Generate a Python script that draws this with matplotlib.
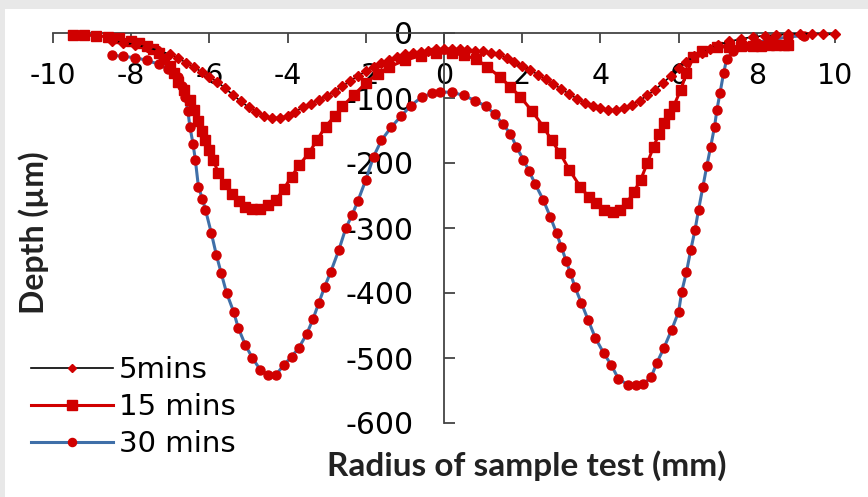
import matplotlib
matplotlib.use("Agg")
import matplotlib.pyplot as plt
from matplotlib.patches import Rectangle

plt.rcParams["axes.unicode_minus"] = False

# radius (mm) and depth (um)
x_5 = [-8.5, -8.2, -7.9, -7.6, -7.3, -7.0, -6.8, -6.6, -6.4, -6.2, -6.0, -5.8, -5.6, -5.4,
       -5.2, -5.0, -4.8, -4.6, -4.4, -4.2, -4.0, -3.8, -3.6, -3.4, -3.2, -3.0, -2.8, -2.6,
       -2.4, -2.2, -2.0, -1.8, -1.6, -1.4, -1.2, -1.0, -0.8, -0.6, -0.4, -0.2, 0.0, 0.2,
       0.4, 0.6, 0.8, 1.0, 1.2, 1.4, 1.6, 1.8, 2.0, 2.2, 2.4, 2.6, 2.8, 3.0, 3.2, 3.4,
       3.6, 3.8, 4.0, 4.2, 4.4, 4.6, 4.8, 5.0, 5.2, 5.4, 5.6, 5.8, 6.0, 6.2, 6.4, 6.6,
       6.8, 7.0, 7.3, 7.6, 7.9, 8.2, 8.5, 8.8, 9.1, 9.4, 9.7, 10.0]
y_5 = [-12, -15, -18, -22, -27, -33, -38, -46, -52, -60, -68, -75, -85, -95,
       -105, -114, -121, -127, -130, -130, -127, -121, -114, -109, -103, -97, -90, -82,
       -74, -66, -59, -52, -46, -41, -37, -33, -31, -29, -27, -25, -24, -24,
       -25, -26, -27, -28, -30, -33, -38, -44, -51, -57, -64, -71, -79, -86, -94, -101,
       -107, -112, -116, -118, -118, -115, -110, -104, -96, -87, -77, -66, -54, -44, -36, -30,
       -24, -18, -13, -9, -6, -4, -3, -2, -1, -1, -2, -2]

x_15 = [-9.5, -9.2, -8.9, -8.6, -8.3, -8.0, -7.8, -7.6, -7.45, -7.3, -7.15, -7.0, -6.9,
        -6.8, -6.65, -6.5, -6.4, -6.3, -6.2, -6.1, -6.0, -5.9, -5.77, -5.6, -5.43, -5.25,
        -5.08, -4.9, -4.7, -4.5, -4.3, -4.1, -3.9, -3.7, -3.46, -3.25, -3.03, -2.8, -2.6,
        -2.3, -2.0, -1.7, -1.4, -1.0, -0.6, -0.2, 0.2, 0.5, 0.82, 1.1, 1.44, 1.7, 1.95,
        2.25, 2.54, 2.75, 2.97, 3.2, 3.49, 3.7, 3.9, 4.1, 4.33, 4.5, 4.67, 4.85, 5.03,
        5.2, 5.36, 5.5, 5.62, 5.75, 5.87, 6.05, 6.2, 6.38, 6.6, 6.97, 7.3, 7.6, 7.9, 8.1,
        8.3, 8.5, 8.7, 8.8]
y_15 = [-3, -3, -4, -6, -8, -12, -15, -20, -25, -31, -40, -50, -62,
        -75, -88, -103, -118, -135, -150, -165, -180, -195, -216, -232, -247, -258,
        -267, -270, -270, -265, -257, -240, -221, -203, -185, -165, -144, -128, -113,
        -95, -77, -63, -52, -42, -35, -31, -31, -34, -40, -52, -68, -83, -98,
        -120, -144, -165, -185, -210, -237, -252, -262, -272, -275, -272, -262, -245, -226,
        -200, -175, -155, -139, -125, -113, -88, -62, -37, -28, -21, -22, -20, -20, -20,
        -19, -19, -18, -18]

x_30 = [-8.5, -8.2, -7.9, -7.6, -7.3, -7.05, -6.8, -6.7, -6.62, -6.55, -6.5, -6.42, -6.36,
        -6.28, -6.18, -6.1, -5.95, -5.82, -5.7, -5.56, -5.38, -5.26, -5.08, -4.9, -4.7,
        -4.5, -4.3, -4.1, -3.9, -3.72, -3.51, -3.35, -3.2, -3.05, -2.9, -2.69, -2.51,
        -2.35, -2.2, -2.0, -1.8, -1.6, -1.35, -1.1, -0.85, -0.56, -0.3, -0.1, 0.2, 0.5,
        0.8, 1.08, 1.3, 1.5, 1.7, 1.85, 2.03, 2.18, 2.33, 2.54, 2.72, 2.88, 3.0, 3.12,
        3.23, 3.35, 3.51, 3.69, 3.87, 4.08, 4.28, 4.46, 4.7, 4.9, 5.1, 5.3, 5.44, 5.62,
        5.82, 6.0, 6.08, 6.2, 6.31, 6.42, 6.51, 6.62, 6.72, 6.82, 6.92, 6.98, 7.06, 7.15,
        7.23, 7.4, 7.7, 8.0, 8.4, 8.8, 9.2]
y_30 = [-34, -36, -38, -42, -48, -56, -67, -82, -98, -120, -144, -170, -195,
        -237, -255, -272, -308, -342, -369, -400, -429, -454, -480, -500, -518,
        -526, -526, -511, -498, -485, -463, -440, -415, -390, -368, -334, -300,
        -280, -258, -226, -190, -165, -145, -128, -112, -98, -93, -91, -91, -96,
        -104, -113, -125, -140, -155, -175, -195, -213, -232, -257, -283, -308, -329, -350,
        -369, -391, -415, -442, -469, -492, -511, -532, -541, -541, -540, -529, -508, -485,
        -457, -429, -398, -368, -334, -303, -272, -237, -205, -175, -144, -118, -92, -62,
        -40, -28, -20, -15, -10, -6, -4]

labels = ["5mins", "15 mins", "30 mins"]

fig = plt.figure(figsize=(8.68, 4.97), dpi=100)
fig.patch.set_facecolor("#e8e8e8")
fig.patches.append(Rectangle((5 / 868, 0), 1, 1 - 9 / 497, transform=fig.transFigure,
                             facecolor="white", edgecolor="none", zorder=-5))

ax = fig.add_axes([53 / 868, 74 / 497, 782 / 868, 390 / 497])
ax.set_facecolor("none")

red = "#d00000"
ax.plot(x_30, y_30, color="#3f6fa8", lw=2.2, marker="o", ms=6.5, mfc=red, mec=red,
        label=labels[2], zorder=3, clip_on=False)
ax.plot(x_15, y_15, color=red, lw=2.2, marker="s", ms=7.5, mfc=red, mec=red,
        label=labels[1], zorder=4, clip_on=False)
ax.plot(x_5, y_5, color="black", lw=1.2, marker="D", ms=5, mfc=red, mec=red,
        label=labels[0], zorder=5, clip_on=False)

ax.set_xlim(-10, 10)
ax.set_ylim(-600, 0)
ax.set_xticks(range(-10, 11, 2))
ax.set_yticks(range(-600, 1, 100))

ax.spines["right"].set_visible(False)
ax.spines["top"].set_visible(False)
ax.spines["left"].set_position(("data", 0))
ax.spines["bottom"].set_position(("data", 0))
for s in ("left", "bottom"):
    ax.spines[s].set_color("#444444")
    ax.spines[s].set_linewidth(1.3)

ax.tick_params(axis="x", direction="out", length=7, width=1.3, color="#444444",
               labelsize=20.5, pad=14)
ax.tick_params(axis="y", direction="in", length=8, width=1.3, color="#444444",
               labelsize=21.5, pad=22)

fig.text(527 / 868, 1 - 466 / 497, "Radius of sample test (mm)", ha="center", va="center",
         fontsize=24, fontweight="bold", family="Lato", color="#222222")
fig.text(34 / 868, 1 - 233 / 497, "Depth (\u00b5m)", ha="center", va="center",
         rotation=90, fontsize=23, fontweight="bold", family="Lato", color="#222222")

handles, labs = ax.get_legend_handles_labels()
order = [2, 1, 0]
leg = fig.legend([handles[i] for i in order], [labs[i] for i in order],
                 loc="upper left", bbox_to_anchor=(5 / 868, 1 - 330 / 497),
                 frameon=False, fontsize=21, handlelength=2.8, handletextpad=0.2,
                 labelspacing=0.3, markerscale=0.9)

fig.savefig("out.png", dpi=100)
